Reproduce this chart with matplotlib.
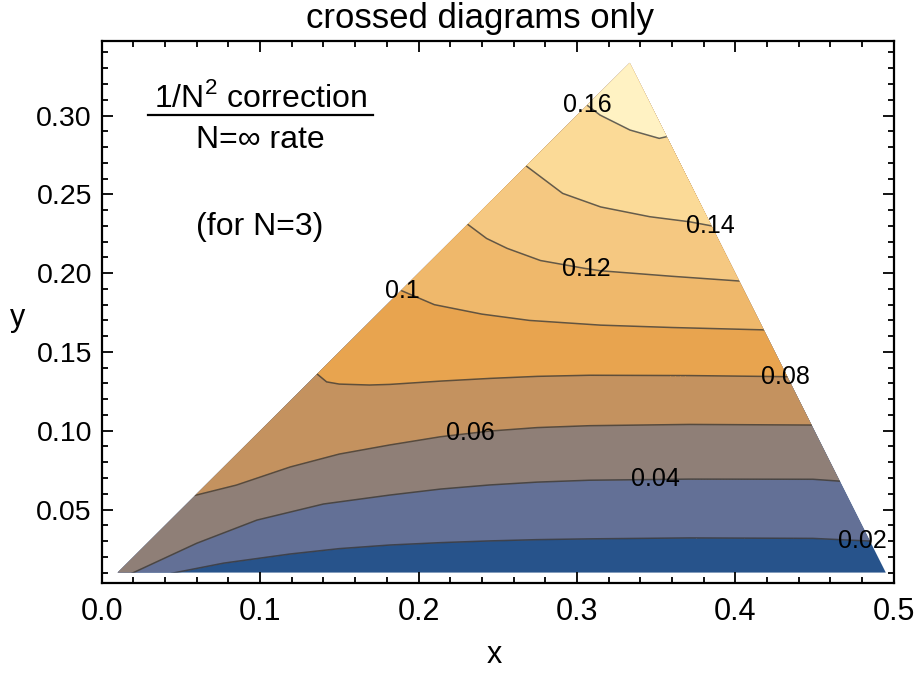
import numpy as np
import matplotlib.pyplot as plt
from matplotlib.patches import Polygon
from matplotlib.ticker import MultipleLocator, FormatStrFormatter

plt.rcParams['font.family'] = ['Liberation Sans', 'DejaVu Sans']
plt.rcParams['mathtext.fontset'] = 'custom'
plt.rcParams['mathtext.rm'] = 'Liberation Sans'

# contour levels and the traced level curves (x, y) for each one
levels = [0.02, 0.04, 0.06, 0.08, 0.10, 0.12, 0.14, 0.16]

x_002 = [0.044, 0.077, 0.119, 0.150, 0.182, 0.214, 0.245, 0.275, 0.308, 0.371, 0.449, 0.485]
y_002 = [0.0095, 0.016, 0.0218, 0.0252, 0.0275, 0.029, 0.0301, 0.0309, 0.0314, 0.032, 0.0317, 0.030]

x_004 = [0.019, 0.060, 0.098, 0.140, 0.182, 0.214, 0.245, 0.275, 0.308, 0.371, 0.449, 0.466]
y_004 = [0.0095, 0.0286, 0.0433, 0.0535, 0.0592, 0.0630, 0.0656, 0.0674, 0.0686, 0.0693, 0.0692, 0.068]

x_006 = [0.059, 0.085, 0.119, 0.150, 0.182, 0.214, 0.245, 0.275, 0.308, 0.371, 0.448]
y_006 = [0.059, 0.0655, 0.077, 0.0852, 0.091, 0.0962, 0.0998, 0.1020, 0.1032, 0.104, 0.1036]

x_008 = [0.136, 0.142, 0.150, 0.169, 0.182, 0.214, 0.245, 0.275, 0.308, 0.371, 0.433]
y_008 = [0.136, 0.131, 0.1296, 0.129, 0.1294, 0.1315, 0.1332, 0.1345, 0.1352, 0.135, 0.1343]

x_010 = [0.189, 0.21, 0.24, 0.27, 0.315, 0.36, 0.418]
y_010 = [0.189, 0.180, 0.174, 0.170, 0.167, 0.1655, 0.164]

x_012 = [0.231, 0.243, 0.256, 0.277, 0.305, 0.315, 0.36, 0.4025]
y_012 = [0.231, 0.222, 0.2157, 0.208, 0.203, 0.2015, 0.198, 0.195]

x_014 = [0.268, 0.291, 0.315, 0.346, 0.371, 0.385]
y_014 = [0.268, 0.2506, 0.242, 0.2358, 0.2326, 0.230]

x_016 = [0.3065, 0.3146, 0.3335, 0.352, 0.3567]
y_016 = [0.3065, 0.3003, 0.2908, 0.2855, 0.2866]

# where along x each level gets its label
label_x = [0.480, 0.3497, 0.233, 0.4315, 0.19, 0.306, 0.384, 0.3065]

band_colors = ['#27538B', '#637096', '#8F7F77', '#C4925F', '#E8A44F',
               '#EFB86B', '#F5C881', '#FBDA97', '#FFF2C3']

curves = [(x_002, y_002), (x_004, y_004), (x_006, y_006), (x_008, y_008),
          (x_010, y_010), (x_012, y_012), (x_014, y_014), (x_016, y_016)]

fig = plt.figure(figsize=(9.17, 6.73), dpi=100)
ax = fig.add_axes([0.1109, 0.1333, 0.8637, 0.8058])

# physical region: y >= 0.01, y <= x, y <= 1 - 2x
y_floor = 0.01
tri = Polygon([(y_floor, y_floor), (1 / 3, 1 / 3), ((1 - y_floor) / 2, y_floor)],
              closed=True, facecolor=band_colors[0], edgecolor='none', zorder=1)
ax.add_patch(tri)

for i, (xs, ys) in enumerate(curves):
    xs = np.asarray(xs)
    ys = np.asarray(ys)
    # run the curve off the region on both ends so the band above it closes
    on_left_edge = abs(xs[0] - ys[0]) < 0.005
    xe = np.r_[0.0, xs, 0.5]
    ye = np.r_[ys[0] if on_left_edge else 0.0, ys, ys[-1]]
    band = ax.fill_between(xe, ye, 0.4, color=band_colors[i + 1], lw=0, zorder=2)
    band.set_clip_path(tri)
    ln, = ax.plot(xs, ys, color='#333333', alpha=0.75, lw=1.1, zorder=3,
                  solid_joinstyle='round')
    ln.set_clip_path(tri)

for lvl, lx, (xs, ys) in zip(levels, label_x, curves):
    ly = np.interp(lx, xs, ys)
    ax.text(lx, ly, f"{lvl:g}", ha='center', va='center', fontsize=18, zorder=4)

ax.set_xlim(0, 0.5)
ax.set_ylim(0.0032, 0.3473)
ax.xaxis.set_major_locator(MultipleLocator(0.1))
ax.xaxis.set_minor_locator(MultipleLocator(0.02))
ax.yaxis.set_major_locator(MultipleLocator(0.05))
ax.yaxis.set_minor_locator(MultipleLocator(0.01))
ax.xaxis.set_major_formatter(FormatStrFormatter('%.1f'))
ax.yaxis.set_major_formatter(FormatStrFormatter('%.2f'))
ax.tick_params(which='both', direction='in', top=True, right=True, width=1.3)
ax.tick_params(which='major', length=8)
ax.tick_params(which='minor', length=4.5)
ax.tick_params(axis='x', pad=10, labelsize=22)
ax.tick_params(axis='y', pad=7, labelsize=20.5)
for sp in ax.spines.values():
    sp.set_linewidth(1.6)

# ratio annotation in the empty corner
ax.text(0.200, 0.895, "1/N$^{2}$ correction", transform=ax.transAxes,
        ha='center', va='center', fontsize=23)
ax.plot([0.0585, 0.343], [0.8635, 0.8635], transform=ax.transAxes,
        color='black', lw=1.6, clip_on=False)
ax.text(0.200, 0.8174, "N=\u221e rate", transform=ax.transAxes,
        ha='center', va='center', fontsize=23)
ax.text(0.200, 0.6571, "(for N=3)", transform=ax.transAxes,
        ha='center', va='center', fontsize=23)

fig.text(480 / 917, 0.973, "crossed diagrams only", ha='center', va='center',
         fontsize=25)
fig.text(494 / 917, 0.0267, "x", ha='center', va='center', fontsize=22)
fig.text(0.0196, 0.5275, "y", ha='center', va='center', fontsize=22)

fig.savefig("out.png", dpi=100)
